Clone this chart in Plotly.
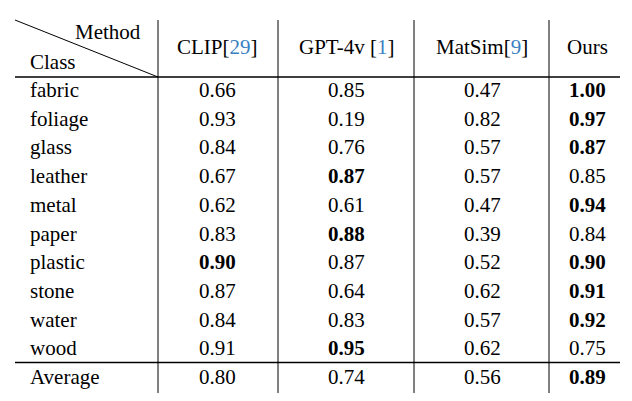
import plotly.graph_objects as go

classes = ["fabric", "foliage", "glass", "leather", "metal", "paper",
           "plastic", "stone", "water", "wood", "Average"]
methods = ["CLIP", "GPT-4v ", "MatSim", "Ours"]
refs = ["29", "1", "9", ""]
clip = [0.66, 0.93, 0.84, 0.67, 0.62, 0.83, 0.90, 0.87, 0.84, 0.91, 0.80]
gpt4v = [0.85, 0.19, 0.76, 0.87, 0.61, 0.88, 0.87, 0.64, 0.83, 0.95, 0.74]
matsim = [0.47, 0.82, 0.57, 0.57, 0.47, 0.39, 0.52, 0.62, 0.57, 0.62, 0.56]
ours = [1.00, 0.97, 0.87, 0.85, 0.94, 0.84, 0.90, 0.91, 0.92, 0.75, 0.89]

W, H = 632, 401
off = 8  # page body margin shifts the plot
col_x = [217, 346, 482, 587]
row_y0, row_dy = 90, 28.7
vlines = [158, 278, 414, 549]
font = "Liberation Serif"

fig = go.Figure()
ann = []
cols = [clip, gpt4v, matsim, ours]
for i, c in enumerate(classes):
    y = row_y0 + i * row_dy
    ann.append(dict(x=28, y=y, text=c, xanchor="left"))
    best = max(col[i] for col in cols)
    for j, col in enumerate(cols):
        t = f"{col[i]:.2f}"
        if col[i] == best:
            t = f"<b>{t}</b>"
        ann.append(dict(x=col_x[j], y=y, text=t, xanchor="center"))

for j, m in enumerate(methods):
    t = m
    if refs[j]:
        t += f"[<span style='color:#3a7fc1'>{refs[j]}</span>]"
    ann.append(dict(x=col_x[j], y=47, text=t, xanchor="center"))
ann.append(dict(x=143, y=32, text="Method", xanchor="right"))
ann.append(dict(x=28, y=62, text="Class", xanchor="left"))

for a in ann:
    a.update(xref="x", yref="y", yanchor="middle", showarrow=False,
             font=dict(family=font, size=21, color="black"))

shapes = [
    dict(type="line", x0=15, y0=20, x1=158, y1=77, line=dict(width=1)),
    dict(type="line", x0=15, y0=77, x1=620, y1=77, line=dict(width=1.3)),
    dict(type="line", x0=15, y0=362.5, x1=620, y1=362.5, line=dict(width=1.3)),
]
for x in vlines:
    shapes.append(dict(type="line", x0=x, y0=20, x1=x, y1=393, line=dict(width=1)))
for s in shapes:
    s.update(xref="x", yref="y")
    s["line"]["color"] = "black"

fig.update_layout(
    width=W, height=H, margin=dict(l=0, r=0, t=0, b=0),
    plot_bgcolor="white", paper_bgcolor="white",
    xaxis=dict(range=[off, W + off], visible=False),
    yaxis=dict(range=[H + off, off], visible=False),
    annotations=ann, shapes=shapes, showlegend=False,
)
fig.write_html("out.html")
